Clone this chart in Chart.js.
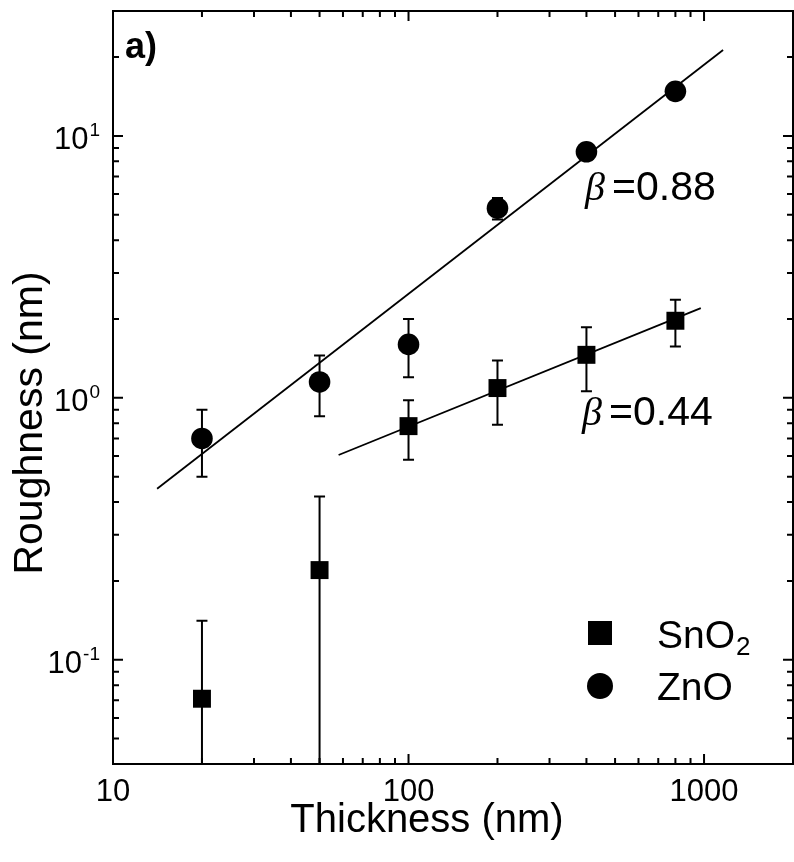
<!DOCTYPE html>
<html>
<head>
<meta charset="utf-8">
<script src="https://cdn.jsdelivr.net/npm/chart.js@4/dist/chart.umd.min.js"></script>
<style>
  html, body { margin: 0; padding: 0; background: #fff; }
  #wrap { width: 794px; height: 862px; }
</style>
</head>
<body>
<div id="wrap"><canvas id="roughnessChart" width="794" height="862"></canvas></div>
<script>
// data
const thickness = [20, 50, 100, 200, 400, 800];
const sno2Roughness = [0.071, 0.22, 0.78, 1.09, 1.46, 1.97];
const sno2Error = [0.07, 0.2, 0.2, 0.3, 0.4, 0.4];
const znoRoughness = [0.70, 1.15, 1.60, 5.3, 8.7, 14.8];
const znoError = [0.2, 0.3, 0.4, 0.5, 0.3, 0.5];

// power-law fit lines (end points)
const znoFitX = [14.1, 1160];
const znoFitY = [0.45, 21.3];
const sno2FitX = [58, 975];
const sno2FitY = [0.605, 2.2];

// axis ticks
const xMajorTicks = [10, 100, 1000];
const xTickLabels = ['10', '100', '1000'];
const yMajorTicks = [0.1, 1, 10];
const yTickExponents = ['-1', '0', '1'];

const SANS = '"Liberation Sans", Arial, sans-serif';

function minorTicks(majors, lo, hi) {
    const out = [];
    majors.concat([majors[0] / 10]).forEach(m => {
        for (let k = 2; k <= 9; k++) {
            const v = m * k;
            if (v > lo && v < hi) out.push(v);
        }
    });
    return out;
}

const toPoints = (xs, ys) => xs.map((x, i) => ({ x: x, y: ys[i] }));

// error bars, drawn under the markers
const errorBars = {
    id: 'errorBars',
    beforeDatasetsDraw(chart) {
        const { ctx, chartArea, scales: { x, y } } = chart;
        ctx.save();
        ctx.beginPath();
        ctx.rect(chartArea.left, chartArea.top, chartArea.right - chartArea.left, chartArea.bottom - chartArea.top);
        ctx.clip();
        ctx.strokeStyle = '#000';
        ctx.lineWidth = 2;
        [[sno2Roughness, sno2Error], [znoRoughness, znoError]].forEach(([vals, errs]) => {
            vals.forEach((v, i) => {
                const px = x.getPixelForValue(thickness[i]);
                const top = y.getPixelForValue(v + errs[i]);
                const low = v - errs[i] > 0 ? y.getPixelForValue(v - errs[i]) : chartArea.bottom + 20;
                ctx.beginPath();
                ctx.moveTo(px, top); ctx.lineTo(px, low);
                ctx.moveTo(px - 5.5, top); ctx.lineTo(px + 5.5, top);
                if (v - errs[i] > 0) { ctx.moveTo(px - 5.5, low); ctx.lineTo(px + 5.5, low); }
                ctx.stroke();
            });
        });
        ctx.restore();
    }
};

// frame, inward ticks, labels, legend and notes
const decorations = {
    id: 'decorations',
    afterDraw(chart) {
        const { ctx, chartArea: a, scales: { x, y } } = chart;
        ctx.save();
        ctx.strokeStyle = '#000';
        ctx.fillStyle = '#000';
        ctx.lineWidth = 2;
        ctx.strokeRect(a.left, a.top, a.right - a.left, a.bottom - a.top);

        const tick = (px, len, vertical) => {
            ctx.beginPath();
            if (vertical) {
                ctx.moveTo(px, a.bottom); ctx.lineTo(px, a.bottom - len);
                ctx.moveTo(px, a.top); ctx.lineTo(px, a.top + len);
            } else {
                ctx.moveTo(a.left, px); ctx.lineTo(a.left + len, px);
                ctx.moveTo(a.right, px); ctx.lineTo(a.right - len, px);
            }
            ctx.stroke();
        };
        xMajorTicks.forEach(v => tick(x.getPixelForValue(v), 10, true));
        minorTicks(xMajorTicks, x.min, x.max).forEach(v => tick(x.getPixelForValue(v), 6, true));
        yMajorTicks.forEach(v => tick(y.getPixelForValue(v), 10, false));
        minorTicks(yMajorTicks, y.min, y.max).forEach(v => tick(y.getPixelForValue(v), 6, false));

        // x tick labels
        ctx.font = '31px ' + SANS;
        ctx.textAlign = 'center';
        ctx.textBaseline = 'alphabetic';
        xMajorTicks.forEach((v, i) => ctx.fillText(xTickLabels[i], x.getPixelForValue(v), 801));

        // y tick labels as 10^n
        yMajorTicks.forEach((v, i) => {
            const py = y.getPixelForValue(v);
            ctx.font = '19px ' + SANS;
            const supW = ctx.measureText(yTickExponents[i]).width;
            ctx.textAlign = 'right';
            ctx.fillText(yTickExponents[i], 100, py);
            ctx.font = '31px ' + SANS;
            ctx.fillText('10', 100 - supW - 1, py + 13);
        });

        // axis titles
        ctx.font = '40px ' + SANS;
        ctx.textAlign = 'center';
        ctx.fillText('Thickness (nm)', 427, 832);
        ctx.save();
        ctx.translate(42, 423);
        ctx.rotate(-Math.PI / 2);
        ctx.font = '41px ' + SANS;
        ctx.fillText('Roughness (nm)', 0, 0);
        ctx.restore();

        // panel label
        ctx.font = 'bold 36px ' + SANS;
        ctx.textAlign = 'left';
        ctx.fillText('a)', 125, 58);

        // exponents
        const beta = (bx, by, txt) => {
            ctx.font = 'italic 40px "Liberation Serif", serif';
            ctx.textAlign = 'left';
            ctx.fillText('\u03b2', bx, by);
            ctx.font = '41px ' + SANS;
            ctx.fillText(txt, bx + 27, by);
        };
        beta(585, 200, '=0.88');
        beta(582, 425, '=0.44');

        // legend
        ctx.fillRect(588, 621, 24, 24);
        ctx.beginPath();
        ctx.arc(600, 686, 13, 0, Math.PI * 2);
        ctx.fill();
        ctx.font = '39px ' + SANS;
        ctx.textAlign = 'left';
        ctx.fillText('SnO', 657, 648);
        const w = ctx.measureText('SnO').width;
        ctx.font = '26px ' + SANS;
        ctx.fillText('2', 657 + w + 1, 655);
        ctx.font = '39px ' + SANS;
        ctx.fillText('ZnO', 657, 700);
        ctx.restore();
    }
};

const ctx = document.getElementById('roughnessChart').getContext('2d');
new Chart(ctx, {
    type: 'scatter',
    data: {
        datasets: [
            {
                label: 'ZnO fit',
                data: toPoints(znoFitX, znoFitY),
                showLine: true,
                borderColor: '#000',
                borderWidth: 1.8,
                pointRadius: 0
            },
            {
                label: 'SnO2 fit',
                data: toPoints(sno2FitX, sno2FitY),
                showLine: true,
                borderColor: '#000',
                borderWidth: 1.8,
                pointRadius: 0
            },
            {
                label: 'SnO2',
                data: toPoints(thickness, sno2Roughness),
                pointStyle: 'rect',
                pointRadius: 12.7,
                backgroundColor: '#000',
                borderColor: '#000',
                borderWidth: 0
            },
            {
                label: 'ZnO',
                data: toPoints(thickness, znoRoughness),
                pointStyle: 'circle',
                pointRadius: 10.8,
                backgroundColor: '#000',
                borderColor: '#000',
                borderWidth: 0
            }
        ]
    },
    options: {
        responsive: false,
        animation: false,
        layout: { autoPadding: false, padding: { left: 113, right: 1, top: 11, bottom: 98 } },
        plugins: {
            legend: { display: false },
            tooltip: { enabled: false }
        },
        scales: {
            x: { type: 'logarithmic', min: 10, max: 2000, display: false },
            y: { type: 'logarithmic', min: 0.04, max: 30, display: false }
        }
    },
    plugins: [errorBars, decorations]
});
</script>
</body>
</html>
